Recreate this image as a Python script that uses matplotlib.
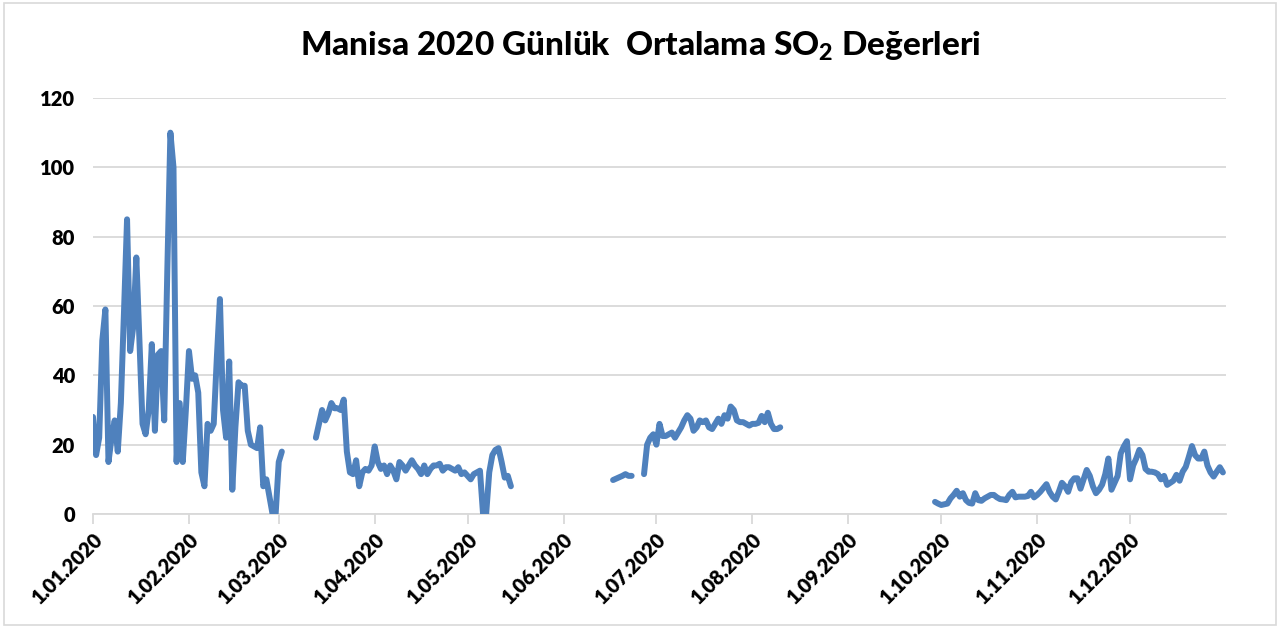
import numpy as np
import pandas as pd
import matplotlib
matplotlib.use("Agg")
import matplotlib.pyplot as plt
from matplotlib.patches import Rectangle

plt.rcParams['font.family'] = ['Lato', 'DejaVu Sans']
plt.rcParams['mathtext.fontset'] = 'custom'
plt.rcParams['mathtext.rm'] = 'Lato:black'
plt.rcParams['mathtext.default'] = 'rm'

# daily mean SO2 values, one list per measured period (gaps = no data)
jan_mar = [28, 17, 22, 50, 59, 15, 22, 27, 18, 32, 58, 85, 47, 54, 74, 50, 26, 23, 30, 49,
           24, 46, 47, 27, 70, 110, 100, 15, 32, 15, 30, 47, 39, 40, 35, 12, 8, 26, 24, 26,
           45, 62, 30, 22, 44, 7, 25, 38, 37, 37, 24, 20, 19.5, 19, 25, 8, 10, 5, 0, 0,
           15, 18]
mar_may = [22, 26, 30, 27, 29, 32, 30.5, 30.5, 30, 33, 18, 12, 11.5, 15.5, 8, 12, 13, 12.5,
           14, 19.5, 15, 13, 14, 11.5, 14, 12.5, 10, 15, 14, 12.5, 14, 15.5, 14, 13, 11.5,
           14, 11.5, 13, 14, 14, 14.5, 12.5, 13.5, 13.5, 13, 12.5, 13.5, 11.5, 12, 11, 10,
           11.5, 12, 12.5, 0, 0, 12, 17, 18.5, 19, 15, 10.5, 11, 8]
jun = [9.8, 10.2, 10.6, 11, 11.5, 11, 11]
jul_aug = [11.5, 20, 22, 23, 20, 26, 22.5, 22.5, 23, 23.5, 22, 23.5, 25, 27, 28.5, 27.5,
           24, 25, 27, 26.5, 27, 25, 24.5, 26, 27.5, 26, 28.5, 27.5, 31, 30, 27, 26.5, 26.5,
           26, 25.5, 26, 26, 26.3, 28.3, 26.5, 29.2, 26, 24.5, 24.5, 25]
sep_dec = [3.5, 3, 2.6, 2.8, 3, 4.5, 5.5, 6.7, 5, 6, 4, 3.2, 3, 6, 4, 3.8, 4.5, 5, 5.5, 5.5,
           4.8, 4.3, 4.2, 4, 5.5, 6.4, 4.8, 5, 5, 5, 5.2, 6.4, 4.8, 5.5, 6.4, 7.5, 8.6, 6.4,
           5, 4.2, 6.4, 9, 8, 6.4, 9.2, 10.3, 10.3, 7.3, 10, 12.7, 11, 8, 6, 7, 8.5, 11.5,
           16, 7, 9, 11, 17.5, 19.5, 21, 10, 14, 16, 18.5, 17, 13, 12.2, 12.2, 12, 11.5, 10,
           11, 8.4, 9, 9.6, 11.3, 9.6, 12.2, 13.6, 16.5, 19.6, 17, 16, 16, 18, 14, 12, 10.8,
           12.2, 13.5, 12]
segment_starts = ['2020-01-01', '2020-03-13', '2020-06-17', '2020-06-27', '2020-09-29']

tick_labels = ['1.01.2020', '1.02.2020', '1.03.2020', '1.04.2020', '1.05.2020', '1.06.2020',
               '1.07.2020', '1.08.2020', '1.09.2020', '1.10.2020', '1.11.2020', '1.12.2020']

days = pd.date_range('2020-01-01', '2020-12-31', freq='D')
so2 = pd.Series(np.nan, index=days)
for start, vals in zip(segment_starts, [jan_mar, mar_may, jun, jul_aug, sep_dec]):
    idx = pd.date_range(start, periods=len(vals), freq='D')
    so2[idx] = vals

fig = plt.figure(figsize=(12.8, 6.28), dpi=100)
fig.patches.append(Rectangle((0.003, 0.005), 0.994, 0.99, transform=fig.transFigure,
                             fill=False, edgecolor='#d9d9d9', linewidth=1.2))
ax = fig.add_axes([93 / 1280, 1 - 514 / 628, (1226 - 93) / 1280, (514 - 98) / 628])

ax.plot(so2.index, so2.values, color='#4f81bd', linewidth=4.3, solid_capstyle='round',
        solid_joinstyle='round', zorder=3)

ax.set_ylim(0, 120)
ax.set_yticks(range(0, 121, 20))
ax.set_xlim(pd.Timestamp('2020-01-01'), pd.Timestamp('2021-01-01'))
ticks = pd.date_range('2020-01-01', '2020-12-01', freq='MS')
ax.set_xticks(ticks)
ax.set_xticklabels(tick_labels, rotation=45, ha='right', rotation_mode='anchor',
                   fontsize=14.5, fontweight='heavy')
for lab in ax.get_yticklabels():
    lab.set_fontweight('heavy')
    lab.set_fontsize(14.5)

ax.grid(axis='y', color='#d9d9d9', linewidth=1.3, zorder=0)
for s in ['top', 'right', 'left']:
    ax.spines[s].set_visible(False)
ax.spines['bottom'].set_color('#d9d9d9')
ax.spines['bottom'].set_linewidth(1.3)
ax.tick_params(axis='y', length=0, pad=13)
ax.tick_params(axis='x', length=7, color='#d9d9d9', width=1.3, pad=4)

fig.text(0.5, 0.926, 'Manisa 2020 Günlük  Ortalama SO$_2$ Değerleri', ha='center',
         va='center', fontsize=24, fontweight='black')

fig.savefig('out.png', dpi=100)
